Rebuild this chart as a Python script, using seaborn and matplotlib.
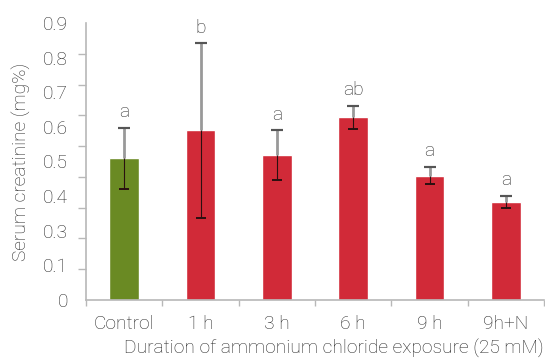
import numpy as np
import pandas as pd
import matplotlib
matplotlib.use("Agg")
import matplotlib.pyplot as plt
import seaborn as sns
from matplotlib.ticker import FixedLocator

# Serum creatinine (mg%) after ammonium chloride exposure
groups = ["Control", "1 h", "3 h", "6 h", "9 h", "9h+N"]
means = [0.46, 0.551, 0.47, 0.593, 0.404, 0.319]
errors = [0.098, 0.283, 0.081, 0.038, 0.028, 0.019]
letters = ["a", "b", "a", "ab", "a", "a"]
ytick_labels = ["0", "0.1", "0.3", "0.4", "0.5", "0.6", "0.7", "0.8", "0.9"]

green = "#6a8a23"
red = "#d12a38"
text_col = "#262626"
axis_col = "#b8b8b8"
fs = 13.8

sns.set_theme(style="white")
plt.rcParams["font.family"] = ["Roboto", "DejaVu Sans"]
plt.rcParams["font.weight"] = "light"

df = pd.DataFrame({"group": groups, "mean": means})

fig = plt.figure(figsize=(5.45, 3.61), dpi=100)
ax = fig.add_axes([86 / 545, 61 / 361, 458 / 545, 277 / 361])

palette = [green] + [red] * (len(groups) - 1)
sns.barplot(data=df, x="group", y="mean", hue="group", palette=palette,
            width=0.39, legend=False, ax=ax, saturation=1, errorbar=None)

x = np.arange(len(groups))
m = np.array(means)
e = np.array(errors)
zero = np.zeros_like(e)
# upper half of each error bar: grey stem with a dark cap
ax.errorbar(x, m, yerr=[zero, e], fmt="none", ecolor="#999999",
            elinewidth=2, capsize=0, zorder=3)
ax.errorbar(x, m + e, yerr=0, fmt="none", ecolor="#555555",
            elinewidth=0, capsize=4.5, capthick=1.5, zorder=4)
# lower half inside the bar: thin dark stem with a small cap
ax.errorbar(x, m, yerr=[e, zero], fmt="none", ecolor="#2a1010",
            elinewidth=0.8, capsize=0, zorder=3)
ax.errorbar(x, m - e, yerr=0, fmt="none", ecolor="#2a1010",
            elinewidth=0, capsize=3.5, capthick=1.2, zorder=4)

for xi, top, lab in zip(x, m + e, letters):
    ax.text(xi, top + 0.022, lab, ha="center", va="bottom",
            fontsize=fs, color=text_col, fontweight="light")

ax.set_xlim(-0.5, len(groups) - 0.5)
ax.set_ylim(0, 0.9)

# y ticks every 0.1 (unlabelled), labels spread over the axis height
ax.yaxis.set_minor_locator(FixedLocator(np.round(np.arange(0, 0.95, 0.1), 2)))
ax.set_yticks(np.linspace(0, 0.9, len(ytick_labels)))
ax.set_yticklabels(ytick_labels)
ax.tick_params(axis="y", which="major", length=0, pad=13,
               labelsize=fs, labelcolor=text_col)
ax.tick_params(axis="y", which="minor", length=6, width=1, color=axis_col,
               left=True)

# x ticks between categories
ax.set_xticks(x)
ax.set_xticklabels(groups)
ax.xaxis.set_minor_locator(FixedLocator(np.arange(-0.5, len(groups), 1.0)))
ax.tick_params(axis="x", which="major", length=0, pad=11,
               labelsize=fs, labelcolor=text_col)
ax.tick_params(axis="x", which="minor", length=4, width=1, color=axis_col,
               bottom=True, direction="out")

ax.set_xlabel("Duration of ammonium chloride exposure (25 mM)", fontsize=fs,
              color=text_col, fontweight="light")
ax.xaxis.set_label_coords(1.0, -0.14)
ax.xaxis.label.set_horizontalalignment("right")
ax.set_ylabel("Serum creatinine (mg%)", fontsize=fs, color=text_col,
              fontweight="light")
ax.yaxis.set_label_coords(-0.12, 0.5)

for side in ["top", "right"]:
    ax.spines[side].set_visible(False)
for side in ["left", "bottom"]:
    ax.spines[side].set_color(axis_col)
    ax.spines[side].set_linewidth(1.2)

fig.savefig("out.png", dpi=100)
